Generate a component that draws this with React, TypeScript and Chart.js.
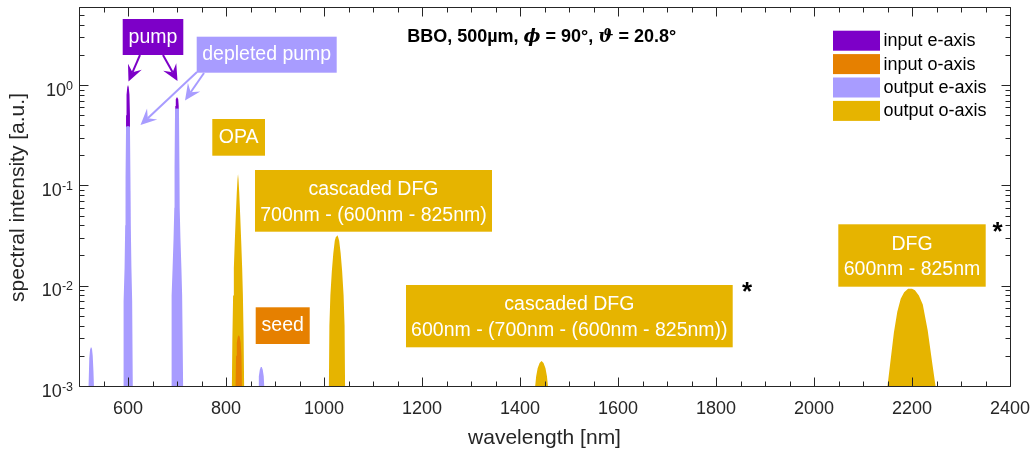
import React, { useEffect, useRef } from 'react';
import { Chart, registerables } from 'chart.js';

Chart.register(...registerables);

// ---------------- data ----------------
const inputEWavelength = [595, 596, 597, 598.5, 600, 601.5, 603, 604, 605, 695.5, 696.5, 697.5, 700, 702.5, 703.5, 704.5];
const inputEIntensity = [1e-5, 0.5, 0.8, 0.95, 1.0, 0.95, 0.8, 0.5, 1e-5, 1e-5, 0.62, 0.72, 0.76, 0.72, 0.62, 1e-5];

const inputOWavelength = [817.5, 819.5, 820.5, 822, 824, 826, 828, 830, 831.5, 832.5, 834.5];
const inputOIntensity = [1e-5, 1e-3, 2e-3, 2.7e-3, 3.1e-3, 3.2e-3, 3.1e-3, 2.7e-3, 2e-3, 1e-3, 1e-5];

const outputEWavelength = [
  517, 519.5, 521, 522.5, 524.5, 526.5, 528, 529.5, 530.5, 533,
  588.5, 590, 590.5, 591.5, 593, 594.3, 595, 596, 600, 604, 605, 605.7, 607, 608.5, 609.5, 610, 611.5,
  686.5, 688, 688.5, 689.5, 691, 693, 694.5, 695, 696, 700, 704, 705, 705.5, 707, 709, 710.5, 711.5, 712.5, 714,
  864, 866, 867, 869, 871, 873, 875, 877, 878, 880,
];
const outputEIntensity = [
  1e-5, 1e-3, 1.9e-3, 2.3e-3, 2.45e-3, 2.35e-3, 2.0e-3, 1.4e-3, 1e-3, 1e-5,
  1e-5, 1e-3, 3e-3, 7e-3, 0.015, 0.04, 0.12, 0.385, 0.39, 0.385, 0.12, 0.04, 0.015, 7e-3, 3e-3, 1e-3, 1e-5,
  1e-5, 1e-3, 3e-3, 8e-3, 0.015, 0.03, 0.06, 0.15, 0.58, 0.585, 0.58, 0.15, 0.06, 0.03, 0.015, 8e-3, 3e-3, 1e-3, 1e-5,
  1e-5, 1e-3, 1.25e-3, 1.45e-3, 1.55e-3, 1.55e-3, 1.45e-3, 1.25e-3, 1e-3, 1e-5,
];

const outputOWavelength = [
  809.5, 812, 813, 814.5, 816, 818, 820, 822, 823.5, 824.5, 825.5, 827, 829, 831, 833, 834.5, 836, 837, 839.5,
  1007.5, 1010, 1011, 1013, 1016, 1019, 1022, 1024.5, 1026.5, 1028.5, 1031, 1034, 1037, 1040, 1042, 1043, 1045.5,
  1428.5, 1431, 1433, 1436, 1440, 1444, 1448, 1452, 1455, 1457, 1459.5,
  2147, 2150, 2155, 2163, 2170, 2177, 2184, 2192, 2200, 2206, 2214, 2222, 2232, 2242, 2248, 2251,
];
const outputOIntensity = [
  1e-5, 1e-3, 3e-3, 8e-3, 0.015, 0.028, 0.05, 0.085, 0.115, 0.13, 0.115, 0.085, 0.05, 0.028, 0.015, 8e-3, 3e-3, 1e-3, 1e-5,
  1e-5, 1e-3, 4e-3, 8e-3, 0.014, 0.021, 0.028, 0.031, 0.032, 0.031, 0.028, 0.021, 0.014, 8e-3, 4e-3, 1e-3, 1e-5,
  1e-5, 1e-3, 1.25e-3, 1.5e-3, 1.7e-3, 1.78e-3, 1.7e-3, 1.5e-3, 1.25e-3, 1e-3, 1e-5,
  1e-5, 1e-3, 1.6e-3, 3.4e-3, 5.5e-3, 7.4e-3, 8.6e-3, 9.3e-3, 9.3e-3, 9.0e-3, 8.0e-3, 6.5e-3, 3.6e-3, 1.6e-3, 1e-3, 1e-5,
];

const seriesLabels = ['input e-axis', 'input o-axis', 'output e-axis', 'output o-axis'];
const xTickValues = [600, 800, 1000, 1200, 1400, 1600, 1800, 2000, 2200, 2400];
const xTickLabels = ['600', '800', '1000', '1200', '1400', '1600', '1800', '2000', '2200', '2400'];
const yTickExponents = [-3, -2, -1, 0];
const xAxisTitle = 'wavelength [nm]';
const yAxisTitle = 'spectral intensity [a.u.]';

// ---------------- styles ----------------
const W = 1033;
const H = 452;
const PURPLE = 'rgb(125,0,200)';
const ORANGE = 'rgb(230,128,0)';
const LILAC = 'rgb(168,156,255)';
const GOLD = 'rgb(230,180,0)';
const seriesColors = [PURPLE, ORANGE, LILAC, GOLD];
const AXIS = '#262626';
const FONT = '"Liberation Sans", Arial, Helvetica, sans-serif';

type Box = { x0: number; y0: number; x1: number; y1: number; color: string; lines: string[]; ys: number[] };
const boxes: Box[] = [
  { x0: 122.7, y0: 19, x1: 183.3, y1: 55, color: PURPLE, lines: ['pump'], ys: [37.5] },
  { x0: 196.7, y0: 36.7, x1: 336.7, y1: 72.7, color: LILAC, lines: ['depleted pump'], ys: [55] },
  { x0: 212.3, y0: 119, x1: 265, y1: 155.7, color: GOLD, lines: ['OPA'], ys: [137.5] },
  { x0: 255, y0: 170, x1: 492, y1: 231.7, color: GOLD, lines: ['cascaded DFG', '700nm - (600nm - 825nm)'], ys: [190, 216] },
  { x0: 255.7, y0: 307.3, x1: 309.7, y1: 344, color: ORANGE, lines: ['seed'], ys: [325.5] },
  { x0: 406, y0: 285, x1: 732.7, y1: 347.3, color: GOLD, lines: ['cascaded DFG', '600nm - (700nm - (600nm - 825nm))'], ys: [304.5, 331] },
  { x0: 838.3, y0: 224.3, x1: 985.7, y1: 286.7, color: GOLD, lines: ['DFG', '600nm - 825nm'], ys: [245, 270] },
];
const arrows = [
  { x1: 140, y1: 55, x2: 128.5, y2: 81.5, color: PURPLE },
  { x1: 163, y1: 55, x2: 177.5, y2: 81, color: PURPLE },
  { x1: 197, y1: 72, x2: 140.5, y2: 125, color: LILAC },
  { x1: 204, y1: 73, x2: 185, y2: 100.5, color: LILAC },
];
const asterisks = [
  { x: 747, y: 285 },
  { x: 997.5, y: 225 },
];

function drawArrow(ctx: CanvasRenderingContext2D, a: { x1: number; y1: number; x2: number; y2: number; color: string }) {
  const ang = Math.atan2(a.y2 - a.y1, a.x2 - a.x1);
  const L = 16;
  const Wd = 7.5;
  const notch = 6;
  ctx.save();
  ctx.translate(a.x2, a.y2);
  ctx.rotate(ang);
  const len = Math.hypot(a.x2 - a.x1, a.y2 - a.y1);
  ctx.strokeStyle = a.color;
  ctx.lineWidth = 2;
  ctx.beginPath();
  ctx.moveTo(-len, 0);
  ctx.lineTo(-L + notch, 0);
  ctx.stroke();
  ctx.fillStyle = a.color;
  ctx.beginPath();
  ctx.moveTo(0, 0);
  ctx.lineTo(-L, -Wd);
  ctx.lineTo(-L + notch, 0);
  ctx.lineTo(-L, Wd);
  ctx.closePath();
  ctx.fill();
  ctx.restore();
}

const decorPlugin = {
  id: 'decor',
  afterDraw(chart: any) {
    const ctx: CanvasRenderingContext2D = chart.ctx;
    const { left, right, top, bottom } = chart.chartArea;
    const xs = chart.scales.x;
    const ys = chart.scales.y;
    ctx.save();

    // axes box
    ctx.strokeStyle = AXIS;
    ctx.lineWidth = 1;
    const L = Math.round(left) + 0.5;
    const R = Math.round(right) + 0.5;
    const T = Math.round(top) + 0.5;
    const B = Math.round(bottom) + 0.5;
    ctx.beginPath();
    ctx.rect(L, T, R - L, B - T);
    ctx.stroke();

    // x ticks
    ctx.beginPath();
    for (let v = xs.min; v <= xs.max + 1e-6; v += 50) {
      const px = Math.round(xs.getPixelForValue(v)) + 0.5;
      const len = v % 200 === 0 ? 9 : 5;
      ctx.moveTo(px, B);
      ctx.lineTo(px, B - len);
      ctx.moveTo(px, T);
      ctx.lineTo(px, T + len);
    }
    // y ticks
    for (const e of yTickExponents) {
      for (let k = 1; k <= 9; k++) {
        const v = k * Math.pow(10, e);
        if (v > ys.max + 1e-9) break;
        const py = Math.round(ys.getPixelForValue(v)) + 0.5;
        const len = k === 1 ? 9 : 5;
        ctx.moveTo(L, py);
        ctx.lineTo(L + len, py);
        ctx.moveTo(R, py);
        ctx.lineTo(R - len, py);
      }
    }
    ctx.stroke();

    // x tick labels
    ctx.fillStyle = AXIS;
    ctx.font = `18px ${FONT}`;
    ctx.textAlign = 'center';
    ctx.textBaseline = 'alphabetic';
    xTickValues.forEach((v, i) => {
      ctx.fillText(xTickLabels[i], xs.getPixelForValue(v), 414);
    });

    // y tick labels 10^e
    yTickExponents.forEach((e) => {
      const py = ys.getPixelForValue(Math.pow(10, e));
      const sup = String(e);
      ctx.font = `12.5px ${FONT}`;
      const ws = ctx.measureText(sup).width;
      ctx.textAlign = 'left';
      ctx.fillText(sup, 73 - ws, py + 4.5);
      ctx.font = `18px ${FONT}`;
      const wb = ctx.measureText('10').width;
      ctx.fillText('10', 73 - ws - wb, py + 10.5);
    });

    // axis titles
    ctx.font = `21px ${FONT}`;
    ctx.textAlign = 'center';
    ctx.fillText(xAxisTitle, (left + right) / 2, 444);
    ctx.save();
    ctx.translate(23.5, (top + bottom) / 2 + 1);
    ctx.rotate(-Math.PI / 2);
    ctx.fillText(yAxisTitle, 0, 0);
    ctx.restore();

    // annotation boxes
    boxes.forEach((b) => {
      ctx.fillStyle = b.color;
      ctx.fillRect(b.x0, b.y0, b.x1 - b.x0, b.y1 - b.y0);
      ctx.fillStyle = '#ffffff';
      ctx.font = `19.5px ${FONT}`;
      ctx.textAlign = 'center';
      ctx.textBaseline = 'middle';
      b.lines.forEach((ln, i) => ctx.fillText(ln, (b.x0 + b.x1) / 2, b.ys[i]));
    });
    arrows.forEach((a) => drawArrow(ctx, a));

    // asterisks
    ctx.fillStyle = '#000000';
    ctx.font = `bold 26px ${FONT}`;
    ctx.textAlign = 'center';
    ctx.textBaseline = 'alphabetic';
    asterisks.forEach((s) => ctx.fillText('*', s.x, s.y + 15));

    // title with mixed fonts
    const segs = [
      { t: 'BBO, 500µm, ', f: `bold 18px ${FONT}` },
      { t: 'ϕ', f: `italic bold 18px "DejaVu Serif", serif` },
      { t: ' = 90°, ', f: `bold 18px ${FONT}` },
      { t: 'ϑ', f: `italic bold 18px "DejaVu Serif", serif` },
      { t: ' = 20.8°', f: `bold 18px ${FONT}` },
    ];
    let total = 0;
    segs.forEach((s) => {
      ctx.font = s.f;
      total += ctx.measureText(s.t).width;
    });
    let cx = 541.7 - total / 2;
    ctx.textAlign = 'left';
    ctx.fillStyle = '#000000';
    segs.forEach((s) => {
      ctx.font = s.f;
      ctx.fillText(s.t, cx, 42);
      cx += ctx.measureText(s.t).width;
    });

    // legend
    ctx.font = `18px ${FONT}`;
    ctx.textBaseline = 'middle';
    ctx.textAlign = 'left';
    seriesLabels.forEach((lab, i) => {
      const y0 = 30.7 + i * 23.4;
      ctx.fillStyle = seriesColors[i];
      ctx.fillRect(833, y0, 47, 20);
      ctx.fillStyle = '#000000';
      ctx.fillText(lab, 883.5, y0 + 10.5);
    });

    ctx.restore();
  },
};

function pts(xs: number[], ys: number[]) {
  return xs.map((x, i) => ({ x, y: ys[i] }));
}

export default function App() {
  const ref = useRef<HTMLCanvasElement | null>(null);
  useEffect(() => {
    if (!ref.current) return;
    const mk = (i: number, xsArr: number[], ysArr: number[], order: number) => ({
      label: seriesLabels[i],
      data: pts(xsArr, ysArr),
      backgroundColor: seriesColors[i],
      borderColor: 'rgba(0,0,0,0)',
      borderWidth: 0,
      pointRadius: 0,
      fill: 'start',
      tension: 0,
      order,
    });
    const chart = new Chart(ref.current, {
      type: 'line',
      data: {
        datasets: [
          mk(0, inputEWavelength, inputEIntensity, 3),
          mk(1, inputOWavelength, inputOIntensity, 0),
          mk(2, outputEWavelength, outputEIntensity, 2),
          mk(3, outputOWavelength, outputOIntensity, 1),
        ] as any,
      },
      options: {
        animation: false,
        responsive: false,
        devicePixelRatio: 1,
        layout: { padding: { left: 0, top: 7, right: 23, bottom: 0 } },
        plugins: { legend: { display: false }, tooltip: { enabled: false } },
        scales: {
          x: {
            type: 'linear',
            min: 500,
            max: 2400,
            grid: { display: false },
            border: { display: false },
            ticks: { display: false },
            afterFit: (s: any) => {
              s.height = 66;
            },
          },
          y: {
            type: 'logarithmic',
            min: 0.001,
            max: 6,
            grid: { display: false },
            border: { display: false },
            ticks: { display: false },
            afterFit: (s: any) => {
              s.width = 79;
            },
          },
        },
      } as any,
      plugins: [decorPlugin],
    });
    return () => chart.destroy();
  }, []);
  return (
    <div style={{ position: 'absolute', left: 0, top: 0, width: W, height: H, background: '#fff' }}>
      <canvas ref={ref} width={W} height={H} style={{ display: 'block', width: W, height: H }} />
    </div>
  );
}
